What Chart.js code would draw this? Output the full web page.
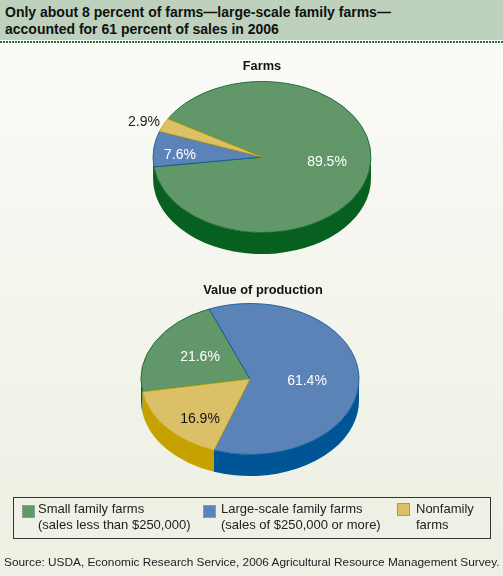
<!DOCTYPE html>
<html><head><meta charset="utf-8">
<script src="https://cdn.jsdelivr.net/npm/chart.js@4"></script>
<style>
html,body{margin:0;padding:0}
body{width:503px;height:576px;position:relative;overflow:hidden;background:linear-gradient(#fbfbf8 0,#f7f7f2 200px,#f1f2e7 420px,#eff0e4 576px);font-family:"Liberation Sans",Arial,sans-serif;color:#111}
#head{position:absolute;left:0;top:0;width:503px;height:40px;background:#bdd1bd;font-weight:bold;font-size:14px;line-height:17px}
#head div{position:absolute;left:5px;white-space:nowrap}
#dots{position:absolute;left:0;top:41px;width:503px;height:2px;background:repeating-linear-gradient(90deg,#2b6b3c 0 2px,transparent 2px 3px)}
canvas{position:absolute;left:0}
#legend{position:absolute;left:13px;top:497px;width:476px;height:40px;border:1px solid #333;}
.sw{position:absolute;width:11px;height:11px;border:1px solid}
.t{position:absolute;font-size:13px;line-height:15.5px;white-space:nowrap;color:#222}
#source{position:absolute;left:4px;top:555px;font-size:11.83px;line-height:14px;white-space:nowrap;color:#222}
</style></head><body>
<div id="head"><div style="top:4px">Only about 8 percent of farms—large-scale family farms—</div><div style="top:21px">accounted for 61 percent of sales in 2006</div></div>
<div id="dots"></div>
<canvas id="c1" width="503" height="230" style="top:40px"></canvas>
<canvas id="c2" width="503" height="230" style="top:265px"></canvas>
<div id="legend"></div>
<div id="source"></div>
<script>
const categories = ["Small family farms", "Large-scale family farms", "Nonfamily farms"];
const farmsValues = [89.5, 7.6, 2.9];
const productionValues = [21.6, 61.4, 16.9];
const farmsTitle = "Farms";
const productionTitle = "Value of production";
const faceColors = ["#62976a", "#5b83b7", "#dcc068"];
const edgeColors = ["#0b6529", "#0a5a9c", "#c6a200"];
const sideColors = ["#07601f", "#005596", "#c6a200"];
const legendLines = [["Small family farms", "(sales less than $250,000)"], ["Large-scale family farms", "(sales of $250,000 or more)"], ["Nonfamily", "farms"]];
const sourceText = "Source: USDA, Economic Research Service, 2006 Agricultural Resource Management Survey.";

const FONT = '"Liberation Sans", Arial, sans-serif';
const SQUASH = 0.693, DEPTH = 21.5;

const tiltPlugin = {
  id: 'tilt',
  beforeDatasetsDraw(chart) {
    const ctx = chart.ctx, arcs = chart.getDatasetMeta(0).data;
    arcs.forEach((el, i) => {
      const {x, y, outerRadius: R} = el;
      const TAU = Math.PI * 2;
      [0, -TAU, -2 * TAU].forEach(shift => {
        const s = Math.max(el.startAngle + shift, 0), e = Math.min(el.endAngle + shift, Math.PI);
        if (e <= s) return;
        ctx.beginPath();
        ctx.ellipse(x, y, R, R * SQUASH, 0, s, e);
        ctx.ellipse(x, y + DEPTH, R, R * SQUASH, 0, e, s, true);
        ctx.closePath();
        ctx.fillStyle = sideColors[i];
        ctx.fill();
      });
    });
    const c = arcs[0];
    ctx.save();
    ctx.translate(c.x, c.y);
    ctx.scale(1, SQUASH);
    ctx.translate(-c.x, -c.y);
  },
  afterDatasetsDraw(chart, args, opts) {
    const ctx = chart.ctx, c = chart.getDatasetMeta(0).data[0];
    ctx.restore();
    ctx.textAlign = 'center';
    ctx.textBaseline = 'middle';
    ctx.font = '14px ' + FONT;
    const vals = chart.data.datasets[0].data;
    vals.forEach((v, i) => {
      ctx.fillStyle = opts.labelColors[i];
      ctx.fillText(v.toFixed(1) + '%', c.x + opts.labelOffsets[i][0], c.y + opts.labelOffsets[i][1]);
    });
    ctx.fillStyle = '#111';
    ctx.font = 'bold 12.8px ' + FONT;
    ctx.fillText(opts.title, c.x + opts.titleOffset[0], c.y + opts.titleOffset[1]);
  }
};

function pie(id, values, rotation, padding, tilt) {
  return new Chart(document.getElementById(id), {
    type: 'pie',
    data: { labels: categories, datasets: [{ data: values, backgroundColor: faceColors, borderColor: edgeColors, borderWidth: 1, borderAlign: 'center', clip: false }] },
    options: {
      responsive: false, animation: false, rotation,
      layout: { padding },
      plugins: { legend: { display: false }, title: { display: false }, tooltip: { enabled: false }, tilt }
    },
    plugins: [tiltPlugin]
  });
}

pie('c1', farmsValues, 300.3,
  { left: 152.5, right: 131.5, top: 7.5, bottom: 3.5 },
  { title: farmsTitle, titleOffset: [0, -91],
    labelColors: ['#fff', '#fff', '#222'],
    labelOffsets: [[65, 5], [-82, -2], [-118, -35]] });

pie('c2', productionValues, 260.2,
  { left: 140.5, right: 143.5, top: 4.5, bottom: 6.5 },
  { title: productionTitle, titleOffset: [13, -89],
    labelColors: ['#fff', '#fff', '#111'],
    labelOffsets: [[-50, -22], [57, 2], [-50, 40]] });

const legend = document.getElementById('legend');
const swX = [8, 189, 383], swY = [7, 7, 5], tX = [24, 207, 402];
legendLines.forEach((lines, i) => {
  const sw = document.createElement('div'); sw.className = 'sw';
  sw.style.cssText = `left:${swX[i]}px;top:${swY[i]}px;background:${faceColors[i]};border-color:#8f9f8f`;
  legend.appendChild(sw);
  const t = document.createElement('div'); t.className = 't';
  t.style.left = tX[i] + 'px'; t.style.top = '3px';
  t.innerHTML = lines.join('<br>');
  legend.appendChild(t);
});
document.getElementById('source').textContent = sourceText;
</script>
</body></html>
